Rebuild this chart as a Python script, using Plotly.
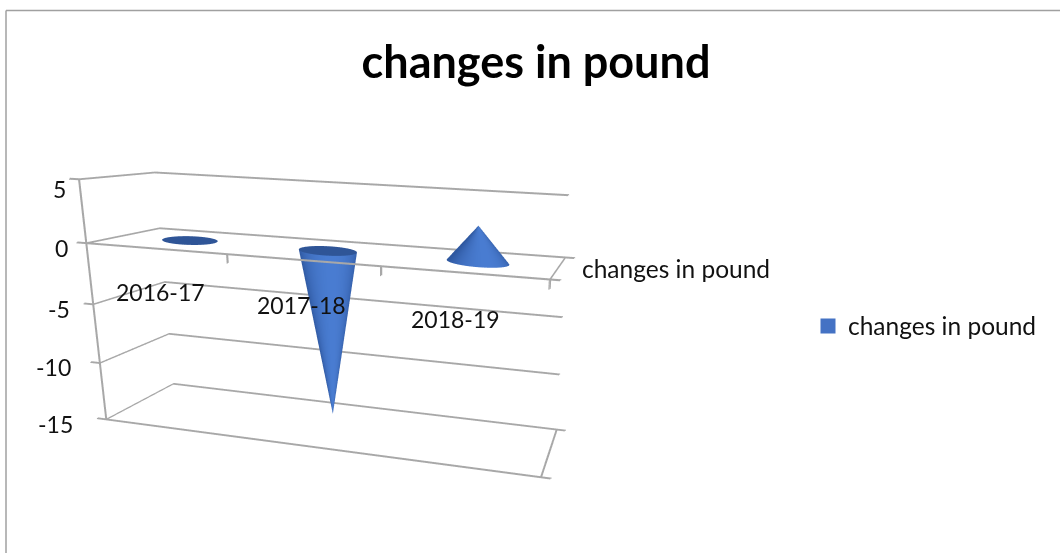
import numpy as np
import plotly.graph_objects as go

# Chart data
categories = ["2016-17", "2017-18", "2018-19"]
values = [-0.1, -14.0, 2.8]
value_ticks = [5, 0, -5, -10, -15]
series_name = "changes in pound"

W, H = 1060, 553
GRAY = "#a8a8a8"
FONT = "Lato"
TEXT = "#111111"
LEFT, RIGHT = -0.5, 2.5
CONE_RX, CONE_RY, CONE_SHEAR = 0.2, 0.22, -0.045
SEGMENTS = 64


def polylines(paths, dx=0.0, dz=0.0):
    """Join 3D paths into one trace, separated by gaps."""
    xs, ys, zs = [], [], []
    for path in paths:
        for px, py, pz in path:
            xs.append(px + dx)
            ys.append(py)
            zs.append(pz + dz)
        xs.append(None)
        ys.append(None)
        zs.append(None)
    return xs, ys, zs


def shade(angle):
    """Side colour of a cone: darker at the silhouette, bright facing the viewer."""
    k = max(0.0, np.cos(angle + np.radians(75))) ** 1.2
    dark = np.array([0x2f, 0x58, 0xa0])
    bright = np.array([0x4a, 0x7d, 0xd2])
    return "rgb(%d,%d,%d)" % tuple(dark + (bright - dark) * k)


FLAT = dict(ambient=1, diffuse=0, specular=0, fresnel=0)
fig = go.Figure()

# One cone per category, base on the zero plane and apex at the value
theta = np.linspace(0, 2 * np.pi, SEGMENTS + 1)
for idx, v in enumerate(values):
    rim_x = idx + CONE_RX * np.cos(theta) + CONE_SHEAR * np.sin(theta)
    rim_y = 0.5 + CONE_RY * np.sin(theta)
    X = list(rim_x) + [idx] * (SEGMENTS + 1)
    Y = list(rim_y) + [0.5] * (SEGMENTS + 1)
    Z = [0] * (SEGMENTS + 1) + [v] * (SEGMENTS + 1)
    colours = [shade(a) for a in theta] * 2
    I, J, K = [], [], []
    for s in range(SEGMENTS):
        apex = SEGMENTS + 1 + s
        I += [s, s + 1]
        J += [s + 1, apex + 1]
        K += [apex, apex]
    fig.add_trace(go.Mesh3d(x=X, y=Y, z=Z, i=I, j=J, k=K, vertexcolor=colours,
                            lighting=FLAT, hoverinfo="skip", showlegend=False))
    if v < 0:
        # The base of a downward cone faces up and is visible
        fig.add_trace(go.Mesh3d(
            x=[idx] + list(rim_x), y=[0.5] + list(rim_y), z=[0] * (SEGMENTS + 2),
            i=[0] * SEGMENTS, j=list(range(1, SEGMENTS + 1)), k=list(range(2, SEGMENTS + 2)),
            color="#2f5597", lighting=FLAT, hoverinfo="skip", showlegend=False))

# Wall gridlines, the zero plane, the floor and the axis ticks
frame = []
for v in value_ticks:
    frame.append([(LEFT - 0.07, 0, v), (LEFT, 0, v), (LEFT, 1, v), (RIGHT, 1, v)])
for v in (0, value_ticks[-1]):
    frame.append([(LEFT, 0, v), (RIGHT, 0, v), (RIGHT, 1, v), (RIGHT + 0.06, 1, v)])
    frame.append([(RIGHT, 0, v), (RIGHT + 0.06, 0, v)])
frame.append([(LEFT, 0, value_ticks[0]), (LEFT, 0, value_ticks[-1])])
for edge in (0.5, 1.5, 2.5):
    frame.append([(edge, 0, 0), (edge, 0, -0.7)])
# Two slightly offset passes give the lines their 2px weight
for dx, dz in ((0.0, 0.0), (0.007, 0.07)):
    fx, fy, fz = polylines(frame, dx, dz)
    fig.add_trace(go.Scatter3d(x=fx, y=fy, z=fz, mode="lines",
                               line=dict(color=GRAY, width=2.2),
                               hoverinfo="skip", showlegend=False))

# Legend entry for the series
fig.add_trace(go.Scatter3d(x=[None], y=[None], z=[None], mode="markers", name=series_name,
                           marker=dict(symbol="square", size=15, color="#4472c4"),
                           showlegend=True))

number_font = dict(family=FONT, size=23, color=TEXT)
word_font = dict(family=FONT, size=24.5, color=TEXT)
annotations = []
for idx, name in enumerate(categories):
    annotations.append(dict(x=idx, y=0, z=-3.4, text=name, showarrow=False,
                            xshift=2 - 4.5 * idx, font=number_font))
for v in value_ticks:
    annotations.append(dict(x=LEFT, y=0, z=v, text=str(v), showarrow=False, xanchor="right",
                            xshift=-16 + v, yshift=-4 - max(v, 0), font=number_font))
annotations.append(dict(x=RIGHT, y=0.5, z=0, text=series_name, showarrow=False,
                        xanchor="left", xshift=22, font=word_font))

scene = dict(
    domain=dict(x=[0, 0.9838], y=[0, 1]),
    xaxis=dict(visible=False, range=[-0.8, 2.8]),
    yaxis=dict(visible=False, range=[-0.2, 1.2]),
    zaxis=dict(visible=False, range=[-17, 7]),
    aspectmode="manual",
    aspectratio=dict(x=1.2, y=0.3077, z=0.6491),
    camera=dict(eye=dict(x=0.6739, y=-1.3074, z=0.4182),
                center=dict(x=0.3095, y=0.6166, z=-0.0326),
                up=dict(x=-0.0649, y=0.1497, z=1),
                projection=dict(type="perspective")),
    annotations=annotations,
    bgcolor="rgba(0,0,0,0)",
)

fig.update_layout(
    width=W, height=H, margin=dict(l=0, r=0, t=0, b=0), paper_bgcolor="white",
    scene=scene,
    title=dict(text="<b>" + series_name + "</b>", x=536 / W, xanchor="center",
               y=1 - 62 / H, yanchor="middle",
               font=dict(family=FONT, size=45, color="#000000")),
    legend=dict(x=808 / W, y=1 - 326 / H, xanchor="left", yanchor="middle",
                font=word_font, bgcolor="rgba(0,0,0,0)"),
    shapes=[
        dict(type="line", xref="paper", yref="paper", x0=6 / W, x1=1,
             y0=1 - 10.5 / H, y1=1 - 10.5 / H, line=dict(color="#a0a0a0", width=1.5)),
        dict(type="line", xref="paper", yref="paper", x0=6 / W, x1=6 / W,
             y0=1 - 10.5 / H, y1=0, line=dict(color="#a0a0a0", width=1.5)),
    ],
)
fig.write_html("out.html")
